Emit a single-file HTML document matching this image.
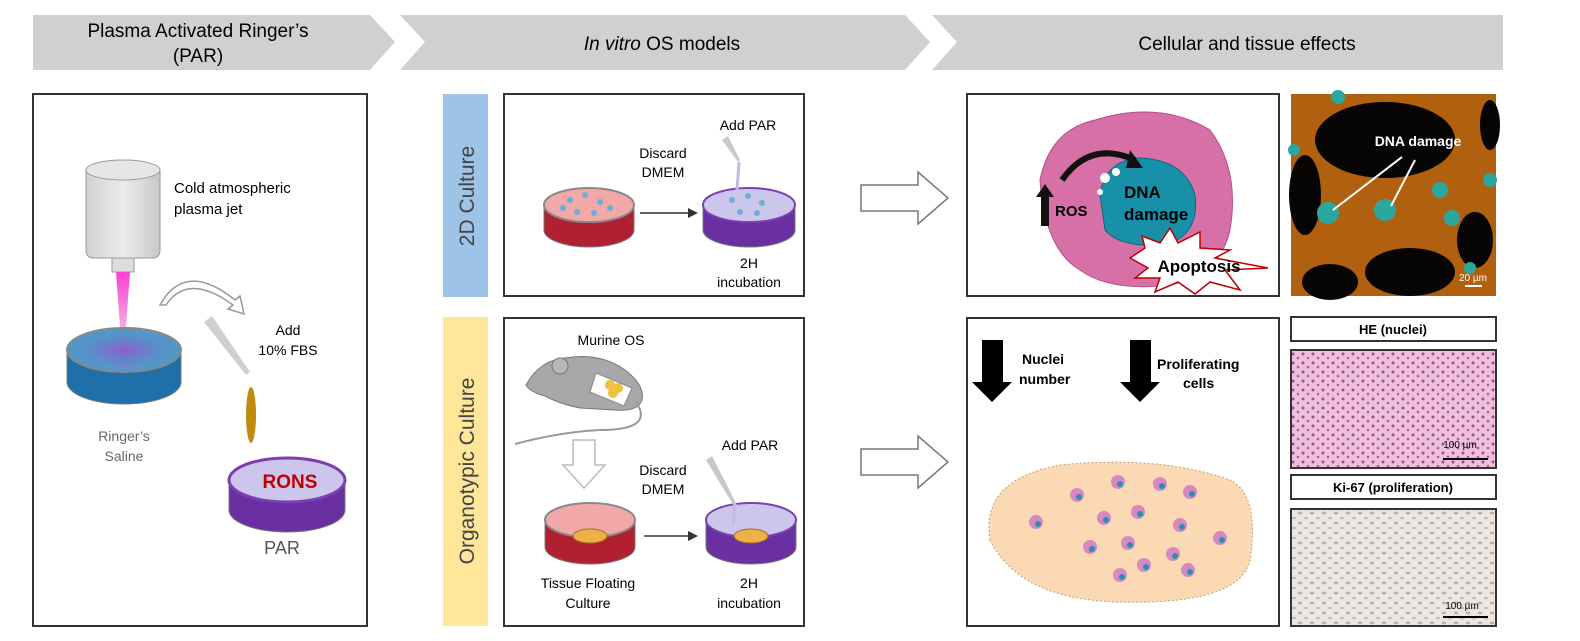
<!DOCTYPE html>
<html><head><meta charset="utf-8"><style>
html,body{margin:0;padding:0;background:#fff;}
svg{display:block;font-family:"Liberation Sans",Arial,sans-serif;}
</style></head><body>
<svg width="1580" height="641" viewBox="0 0 1580 641" xmlns="http://www.w3.org/2000/svg">
<defs>
<radialGradient id="blue" cx="0.5" cy="0.5" r="0.6"><stop offset="0" stop-color="#8a5fd0"/><stop offset="0.5" stop-color="#5a8fc8"/><stop offset="1" stop-color="#4aa0c8"/></radialGradient>
<linearGradient id="jet" x1="0" y1="0" x2="0" y2="1"><stop offset="0" stop-color="#ff40d0"/><stop offset="1" stop-color="#e040c0" stop-opacity="0.3"/></linearGradient>
<linearGradient id="cyl" x1="0" y1="0" x2="1" y2="0"><stop offset="0" stop-color="#d0d0d0"/><stop offset="0.5" stop-color="#ececec"/><stop offset="1" stop-color="#c8c8c8"/></linearGradient>
<pattern id="he" width="10" height="9" patternUnits="userSpaceOnUse"><rect width="10" height="9" fill="#efc0dc"/><circle cx="3" cy="3" r="1.5" fill="#9a5090"/><circle cx="8" cy="7" r="1.3" fill="#a86098"/></pattern>
<pattern id="ki" width="12" height="10" patternUnits="userSpaceOnUse"><rect width="12" height="10" fill="#ebe6e2"/><ellipse cx="4" cy="3" rx="2.2" ry="1.4" fill="#b8b0aa"/><ellipse cx="10" cy="8" rx="2" ry="1.3" fill="#c2bab4"/></pattern>
</defs>

<polygon points="33,15 370,15 395,42 370,70 33,70" fill="#d0d0d0"/>
<polygon points="400,15 905,15 930,42 905,70 400,70 425,42" fill="#d0d0d0"/>
<polygon points="932,15 1503,15 1503,70 932,70 957,42" fill="#d0d0d0"/>
<text x="198" y="37" font-size="19" text-anchor="middle">Plasma Activated Ringer’s</text>
<text x="198" y="62" font-size="19" text-anchor="middle">(PAR)</text>
<text x="662" y="50" font-size="19" text-anchor="middle"><tspan font-style="italic">In vitro</tspan> OS models</text>
<text x="1247" y="50" font-size="19" text-anchor="middle">Cellular and tissue effects</text>

<rect x="33" y="94" width="334" height="532" fill="none" stroke="#333" stroke-width="2"/>
<path d="M86,170 L86,250 Q86,258 94,258 L152,258 Q160,258 160,250 L160,170 Z" fill="url(#cyl)" stroke="#999"/>
<ellipse cx="123" cy="170" rx="37" ry="10" fill="#e6e6e6" stroke="#999"/>
<rect x="112" y="258" width="22" height="14" fill="#ddd" stroke="#999"/>
<polygon points="116,272 130,272 125,340 121,340" fill="url(#jet)"/>
<text x="174" y="193" font-size="15">Cold atmospheric</text>
<text x="174" y="214" font-size="15">plasma jet</text>
<path d="M160,305 Q185,260 235,300 L240,296 L244,314 L228,309 L233,305 Q188,272 166,305 Z" fill="#fff" stroke="#999" stroke-width="1.5"/>
<text x="288" y="335" font-size="14" text-anchor="middle">Add</text>
<text x="288" y="355" font-size="14" text-anchor="middle">10% FBS</text>
<polygon points="204,322 212,316 250,372 246,375" fill="#cfcfcf"/>
<ellipse cx="251" cy="415" rx="5" ry="28" fill="#c08a10"/>
<path d="M67,350 L67,382 A57,22 0 0 0 181,382 L181,350 Z" fill="#1f6fa8" stroke="#777"/>
<ellipse cx="124" cy="350" rx="57" ry="22" fill="url(#blue)" stroke="#888" stroke-width="2"/>
<ellipse cx="124" cy="369" rx="8" ry="3" fill="none" stroke="#9a70e0"/>
<text x="124" y="441" font-size="14" fill="#666" text-anchor="middle">Ringer’s</text>
<text x="124" y="461" font-size="14" fill="#666" text-anchor="middle">Saline</text>
<path d="M229,480 L229,510 A58,22 0 0 0 345,510 L345,480 Z" fill="#6a2fa0" stroke="#777"/>
<ellipse cx="287" cy="480" rx="58" ry="22" fill="#cdc6ec" stroke="#7a40b0" stroke-width="3"/>
<text x="290" y="488" font-size="19" font-weight="bold" fill="#c00000" text-anchor="middle">RONS</text>
<text x="282" y="554" font-size="18" fill="#555" text-anchor="middle">PAR</text>

<rect x="443" y="94" width="45" height="203" fill="#9dc3e6"/>
<text transform="translate(474,196) rotate(-90)" font-size="21" fill="#444" text-anchor="middle">2D Culture</text>
<rect x="443" y="317" width="45" height="309" fill="#ffe699"/>
<text transform="translate(474,471) rotate(-90)" font-size="21" fill="#444" text-anchor="middle">Organotypic Culture</text>

<rect x="504" y="94" width="300" height="202" fill="none" stroke="#333" stroke-width="2"/>
<path d="M544,205 L544,230 A45,17 0 0 0 634,230 L634,205 Z" fill="#b02030" stroke="#777"/>
<ellipse cx="589" cy="205" rx="45" ry="17" fill="#f0a8a8" stroke="#888" stroke-width="2"/>
<g fill="#6ab0d8"><circle cx="570" cy="200" r="3"/><circle cx="585" cy="195" r="3"/><circle cx="600" cy="202" r="3"/><circle cx="577" cy="212" r="3"/><circle cx="594" cy="213" r="3"/><circle cx="610" cy="208" r="3"/><circle cx="563" cy="208" r="3"/></g>
<line x1="640" y1="213" x2="695" y2="213" stroke="#333" stroke-width="1.5"/><polygon points="698,213 688,208 688,218" fill="#333"/>
<path d="M703,205 L703,230 A46,17 0 0 0 795,230 L795,205 Z" fill="#6a2fa0" stroke="#777"/>
<ellipse cx="749" cy="205" rx="46" ry="17" fill="#cdc6ec" stroke="#7a40b0" stroke-width="2"/>
<g fill="#6ab0d8"><circle cx="732" cy="200" r="3"/><circle cx="748" cy="196" r="3"/><circle cx="762" cy="203" r="3"/><circle cx="740" cy="212" r="3"/><circle cx="757" cy="213" r="3"/></g>
<polygon points="722,140 728,136 740,160 738,162" fill="#c8c8c8"/>
<line x1="739" y1="162" x2="737" y2="190" stroke="#c8b8e0" stroke-width="3"/>
<text x="748" y="130" font-size="14" text-anchor="middle">Add PAR</text>
<text x="663" y="158" font-size="14" text-anchor="middle">Discard</text>
<text x="663" y="177" font-size="14" text-anchor="middle">DMEM</text>
<text x="749" y="268" font-size="14" text-anchor="middle">2H</text>
<text x="749" y="287" font-size="14" text-anchor="middle">incubation</text>

<rect x="504" y="318" width="300" height="308" fill="none" stroke="#333" stroke-width="2"/>
<text x="611" y="345" font-size="14" text-anchor="middle">Murine OS</text>
<path d="M526,385 Q540,360 565,358 Q600,352 625,370 Q645,385 642,400 Q638,412 615,410 L580,408 Q560,404 545,396 Q530,392 526,385 Z" fill="#a8a8a8" stroke="#777"/>
<circle cx="560" cy="366" r="8" fill="#b8b8b8" stroke="#777"/>
<path d="M636,402 Q655,430 600,430 Q560,432 515,444" fill="none" stroke="#999" stroke-width="2"/>
<polygon points="596,373 632,388 624,406 590,392" fill="#fff" stroke="#888"/>
<g fill="#f0c040"><circle cx="610" cy="385" r="5"/><circle cx="618" cy="388" r="5"/><circle cx="613" cy="393" r="5"/></g>
<polygon points="573,440 595,440 595,465 605,465 584,488 563,465 573,465" fill="#fff" stroke="#bbb" stroke-width="1.5"/>
<path d="M545,520 L545,547 A45,17 0 0 0 635,547 L635,520 Z" fill="#b02030" stroke="#777"/>
<ellipse cx="590" cy="520" rx="45" ry="17" fill="#f0a8a8" stroke="#888" stroke-width="2"/>
<ellipse cx="590" cy="536" rx="17" ry="7" fill="#f0b048" stroke="#a07020"/>
<line x1="644" y1="536" x2="695" y2="536" stroke="#333" stroke-width="1.5"/><polygon points="698,536 688,531 688,541" fill="#333"/>
<path d="M706,520 L706,547 A45,17 0 0 0 796,547 L796,520 Z" fill="#6a2fa0" stroke="#777"/>
<ellipse cx="751" cy="520" rx="45" ry="17" fill="#cdc6ec" stroke="#7a40b0" stroke-width="2"/>
<ellipse cx="751" cy="536" rx="17" ry="7" fill="#f0b048" stroke="#a07020"/>
<polygon points="706,460 712,456 737,505 734,506" fill="#c8c8c8"/>
<line x1="735" y1="505" x2="733" y2="525" stroke="#c8b8e0" stroke-width="3"/>
<text x="750" y="450" font-size="14" text-anchor="middle">Add PAR</text>
<text x="663" y="475" font-size="14" text-anchor="middle">Discard</text>
<text x="663" y="494" font-size="14" text-anchor="middle">DMEM</text>
<text x="588" y="588" font-size="14" text-anchor="middle">Tissue Floating</text>
<text x="588" y="608" font-size="14" text-anchor="middle">Culture</text>
<text x="749" y="588" font-size="14" text-anchor="middle">2H</text>
<text x="749" y="608" font-size="14" text-anchor="middle">incubation</text>

<polygon points="861,185 918,185 918,172 948,198 918,224 918,211 861,211" fill="#fff" stroke="#777" stroke-width="1.5"/>
<polygon points="861,449 918,449 918,436 948,462 918,488 918,475 861,475" fill="#fff" stroke="#777" stroke-width="1.5"/>

<rect x="967" y="94" width="312" height="202" fill="none" stroke="#333" stroke-width="2"/>
<path d="M1040,180 Q1050,130 1095,120 Q1160,100 1210,130 Q1240,170 1230,230 Q1220,275 1170,285 Q1110,292 1080,270 Q1045,250 1040,180 Z" fill="#d870a8" stroke="#b05088"/>
<path d="M1100,195 Q1105,160 1140,158 Q1185,160 1195,195 Q1200,235 1165,245 Q1120,248 1105,230 Z" fill="#1890a8" stroke="#0a6a80"/>
<g fill="#fff"><circle cx="1105" cy="178" r="5"/><circle cx="1116" cy="172" r="4"/><circle cx="1100" cy="192" r="3"/></g>
<path d="M1062,180 Q1090,140 1135,160" fill="none" stroke="#111" stroke-width="6"/><polygon points="1130,150 1143,168 1126,168" fill="#111"/>
<polygon points="1041,226 1041,197 1036,197 1045,184 1054,197 1049,197 1049,226" fill="#111"/>
<text x="1055" y="216" font-size="15" font-weight="bold">ROS</text>
<text x="1124" y="198" font-size="17" font-weight="bold">DNA</text>
<text x="1124" y="220" font-size="17" font-weight="bold">damage</text>
<polygon points="1130,258 1145,248 1142,236 1160,243 1170,228 1178,243 1200,232 1200,248 1230,250 1215,258 1268,268 1225,270 1240,290 1210,282 1195,294 1178,282 1155,292 1160,278 1135,278 1148,268" fill="#fff" stroke="#c00000" stroke-width="1.5"/>
<text x="1199" y="272" font-size="17" font-weight="bold" text-anchor="middle">Apoptosis</text>

<rect x="1291" y="94" width="205" height="202" fill="#b0600e"/>
<g fill="#070504"><ellipse cx="1385" cy="140" rx="70" ry="38"/><ellipse cx="1305" cy="195" rx="16" ry="40"/><ellipse cx="1410" cy="272" rx="45" ry="24"/><ellipse cx="1475" cy="240" rx="18" ry="28"/><ellipse cx="1330" cy="282" rx="28" ry="18"/><ellipse cx="1490" cy="125" rx="10" ry="25"/></g>
<g fill="#2aa8a0"><circle cx="1328" cy="213" r="11"/><circle cx="1385" cy="210" r="11"/><circle cx="1440" cy="190" r="8"/><circle cx="1452" cy="218" r="8"/><circle cx="1490" cy="180" r="7"/><circle cx="1294" cy="150" r="6"/><circle cx="1338" cy="97" r="7"/><circle cx="1470" cy="268" r="6"/></g>
<text x="1418" y="146" font-size="14" font-weight="bold" fill="#fff" text-anchor="middle">DNA damage</text>
<line x1="1402" y1="157" x2="1333" y2="210" stroke="#fff" stroke-width="2"/>
<line x1="1415" y1="160" x2="1391" y2="206" stroke="#fff" stroke-width="2"/>
<text x="1473" y="281" font-size="10" fill="#fff" text-anchor="middle">20 µm</text>
<line x1="1465" y1="286" x2="1482" y2="286" stroke="#fff" stroke-width="2"/>

<rect x="967" y="318" width="312" height="308" fill="none" stroke="#333" stroke-width="2"/>
<polygon points="982,340 1003,340 1003,382 1012,382 992,402 972,382 982,382" fill="#000"/>
<text x="1022" y="364" font-size="14" font-weight="bold">Nuclei</text>
<text x="1019" y="384" font-size="14" font-weight="bold">number</text>
<polygon points="1130,340 1151,340 1151,382 1160,382 1140,402 1120,382 1130,382" fill="#000"/>
<text x="1157" y="369" font-size="14" font-weight="bold">Proliferating</text>
<text x="1183" y="388" font-size="14" font-weight="bold">cells</text>
<path d="M990,540 Q980,480 1060,465 Q1160,455 1230,480 Q1260,495 1250,560 Q1240,605 1120,602 Q1020,600 990,540 Z" fill="#fbd9b5" stroke="#c0a070" stroke-dasharray="2,2"/>
<g fill="#d888c0"><circle cx="1036" cy="522" r="7"/><circle cx="1077" cy="495" r="7"/><circle cx="1118" cy="482" r="7"/><circle cx="1160" cy="484" r="7"/><circle cx="1190" cy="492" r="7"/><circle cx="1104" cy="518" r="7"/><circle cx="1138" cy="512" r="7"/><circle cx="1180" cy="525" r="7"/><circle cx="1090" cy="547" r="7"/><circle cx="1128" cy="543" r="7"/><circle cx="1173" cy="554" r="7"/><circle cx="1120" cy="575" r="7"/><circle cx="1144" cy="565" r="7"/><circle cx="1220" cy="538" r="7"/><circle cx="1188" cy="570" r="7"/></g>
<g fill="#2a90b0"><circle cx="1038" cy="524" r="3"/><circle cx="1079" cy="497" r="3"/><circle cx="1120" cy="484" r="3"/><circle cx="1162" cy="486" r="3"/><circle cx="1192" cy="494" r="3"/><circle cx="1106" cy="520" r="3"/><circle cx="1140" cy="514" r="3"/><circle cx="1182" cy="527" r="3"/><circle cx="1092" cy="549" r="3"/><circle cx="1130" cy="545" r="3"/><circle cx="1175" cy="556" r="3"/><circle cx="1122" cy="577" r="3"/><circle cx="1146" cy="567" r="3"/><circle cx="1222" cy="540" r="3"/><circle cx="1190" cy="572" r="3"/></g>

<rect x="1291" y="317" width="205" height="24" fill="#fff" stroke="#333" stroke-width="2"/>
<text x="1393" y="334" font-size="13" font-weight="bold" text-anchor="middle">HE (nuclei)</text>
<rect x="1291" y="350" width="205" height="118" fill="url(#he)" stroke="#333" stroke-width="2"/>
<text x="1460" y="448" font-size="10" text-anchor="middle">100 µm</text>
<line x1="1443" y1="459" x2="1488" y2="459" stroke="#000" stroke-width="2"/>
<rect x="1291" y="475" width="205" height="24" fill="#fff" stroke="#333" stroke-width="2"/>
<text x="1393" y="492" font-size="13" font-weight="bold" text-anchor="middle">Ki-67 (proliferation)</text>
<rect x="1291" y="509" width="205" height="117" fill="url(#ki)" stroke="#333" stroke-width="2"/>
<text x="1462" y="609" font-size="10" text-anchor="middle">100 µm</text>
<line x1="1443" y1="617" x2="1488" y2="617" stroke="#000" stroke-width="2"/>
</svg>
</body></html>
